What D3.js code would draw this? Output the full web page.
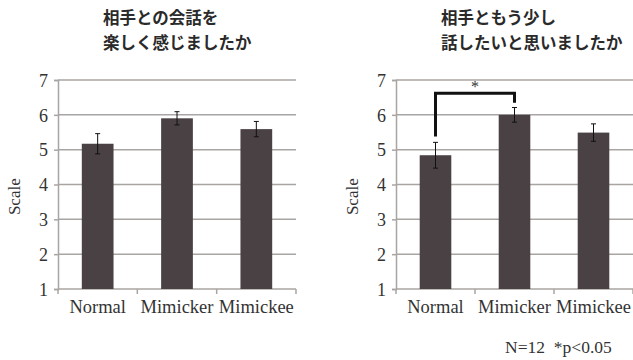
<!DOCTYPE html>
<html>
<head>
<meta charset="utf-8">
<script src="https://cdn.jsdelivr.net/npm/d3@7"></script>
<style>
  body { margin: 0; background: #fff; }
  .serif { font-family: "Liberation Serif", "DejaVu Serif", serif; fill: #333; }
  .title { font-family: "Noto Sans CJK JP", sans-serif; font-weight: bold; font-size: 16.5px; fill: #2a2a2a; }
</style>
</head>
<body>
<div id="visual"></div>
<script>
var w = 633, h = 360;

// data
var categories = ["Normal", "Mimicker", "Mimickee"];
var yTicks = [1, 2, 3, 4, 5, 6, 7];
var titlesLeft = ["相手との会話を", "楽しく感じましたか"];
var titlesRight = ["相手ともう少し", "話したいと思いましたか"];
var meansLeft = [5.17, 5.9, 5.59];
var errLeft = [0.29, 0.19, 0.22];
var meansRight = [4.84, 6.0, 5.49];
var errRight = [0.37, 0.21, 0.25];
// significance bracket: from Normal to Mimicker (left leg bottom, top, right leg bottom)
var sigPair = ["Normal", "Mimicker"];
var sigLevels = [5.38, 6.62, 6.35];
var footnote = "N=12  *p<0.05";

var barColor = "#4a4145";
var gridColor = "#a9a5a2";
var serif = "'Liberation Serif', 'DejaVu Serif', serif";

var svg = d3.select("#visual").append("svg")
  .attr("width", w)
  .attr("height", h);

var y = d3.scaleLinear().domain([1, 7]).range([289, 80]);

function drawPanel(x0, x1, titles, means, errs, sig) {
  var g = svg.append("g");
  var x = d3.scaleBand().domain(categories).range([x0, x1])
    .paddingInner(0.6).paddingOuter(0.3);

  // gridlines
  g.selectAll(".grid").data(yTicks.slice(1)).enter().append("line")
    .attr("x1", x0).attr("x2", x1)
    .attr("y1", function(d){ return y(d); })
    .attr("y2", function(d){ return y(d); })
    .style("stroke", gridColor).style("stroke-width", 1.5);

  // y axis
  var yAxis = g.append("g").attr("transform", "translate(" + x0 + ",0)")
    .call(d3.axisLeft(y).tickValues(yTicks).tickFormat(d3.format("d")).tickSize(4).tickPadding(6));
  yAxis.select(".domain").style("stroke", gridColor).style("stroke-width", 1.5);
  yAxis.selectAll(".tick line").style("stroke", gridColor).style("stroke-width", 1.5);
  yAxis.selectAll("text")
    .style("font-family", serif).style("fill", "#333").style("font-size", "18px")
    .attr("dy", "0.35em");

  // x axis baseline + ticks at band boundaries
  g.append("line").attr("x1", x0).attr("x2", x1).attr("y1", y(1)).attr("y2", y(1))
    .style("stroke", gridColor).style("stroke-width", 1.5);
  var bounds = [x0].concat(categories.map(function(c){ return x(c) + x.bandwidth() + x.step() * 0.3; }));
  bounds[bounds.length - 1] = x1;
  g.selectAll(".xt").data(bounds).enter().append("line")
    .attr("x1", function(d){ return d; }).attr("x2", function(d){ return d; })
    .attr("y1", y(1)).attr("y2", y(1) + 5)
    .style("stroke", gridColor).style("stroke-width", 1.5);

  g.selectAll(".xl").data(categories).enter().append("text")
    .attr("class", "serif")
    .attr("x", function(d){ return x(d) + x.bandwidth() / 2; })
    .attr("y", 313)
    .attr("text-anchor", "middle")
    .style("font-size", "18.5px")
    .text(function(d){ return d; });

  // bars
  g.selectAll(".bar").data(means).enter().append("rect")
    .attr("x", function(d, i){ return x(categories[i]); })
    .attr("width", x.bandwidth())
    .attr("y", function(d){ return y(d); })
    .attr("height", function(d){ return y(1) - y(d); })
    .style("fill", barColor);

  // error bars
  var eb = g.selectAll(".eb").data(means).enter().append("g")
    .attr("transform", function(d, i){ return "translate(" + (x(categories[i]) + x.bandwidth() / 2) + ",0)"; });
  eb.append("line")
    .attr("y1", function(d, i){ return y(d + errs[i]); })
    .attr("y2", function(d, i){ return y(d - errs[i]); })
    .style("stroke", "#111").style("stroke-width", 1);
  eb.append("line").attr("x1", -2.5).attr("x2", 2.5)
    .attr("y1", function(d, i){ return y(d + errs[i]); })
    .attr("y2", function(d, i){ return y(d + errs[i]); })
    .style("stroke", "#111").style("stroke-width", 1);
  eb.append("line").attr("x1", -2.5).attr("x2", 2.5)
    .attr("y1", function(d, i){ return y(d - errs[i]); })
    .attr("y2", function(d, i){ return y(d - errs[i]); })
    .style("stroke", "#111").style("stroke-width", 1);

  // y title
  g.append("text").attr("class", "serif")
    .attr("transform", "translate(" + (x0 - 38) + "," + y(3.65) + ") rotate(-90)")
    .attr("text-anchor", "middle")
    .style("font-size", "17px")
    .text("Scale");

  // chart title
  g.selectAll(".title").data(titles).enter().append("text")
    .attr("class", "title")
    .attr("x", x0 + 45)
    .attr("y", function(d, i){ return 24 + i * 25; })
    .text(function(d){ return d; });

  if (sig) {
    var xa = x(sig[0]) + x.bandwidth() / 2, xb = x(sig[1]) + x.bandwidth() / 2;
    var pts = [[xa, y(sigLevels[0])], [xa, y(sigLevels[1])], [xb, y(sigLevels[1])], [xb, y(sigLevels[2])]];
    g.append("path").attr("d", d3.line()(pts))
      .style("fill", "none").style("stroke", "#111").style("stroke-width", 3);
    g.append("text").attr("class", "serif")
      .attr("x", (xa + xb) / 2).attr("y", y(sigLevels[1]) - 1)
      .attr("text-anchor", "middle")
      .style("font-size", "16px")
      .text("*");
  }
  return g;
}

drawPanel(58, 296, titlesLeft, meansLeft, errLeft, null);
drawPanel(396, 633, titlesRight, meansRight, errRight, sigPair);

svg.append("text").attr("class", "serif")
  .attr("x", 505).attr("y", 353)
  .style("font-size", "17.5px")
  .style("white-space", "pre")
  .text(footnote);
</script>
</body>
</html>
